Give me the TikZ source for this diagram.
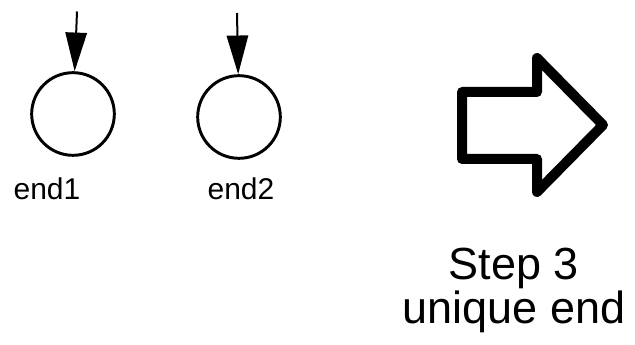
\documentclass[tikz,border=0pt]{standalone}
\usepackage{fontspec}
\setmainfont{Liberation Sans}
\usetikzlibrary{arrows.meta}

\begin{document}
\begin{tikzpicture}[x=0.75pt, y=-0.75pt, >={Triangle[length=29pt, width=16pt]},
	end state/.style={circle, draw, line width=2.2pt, minimum size=62pt, inner sep=0pt},
	end label/.style={anchor=base, font=\fontsize{22.5}{27}\selectfont},
	big arrow/.style={line width=7.5pt, line join=round},
	step label/.style={align=center, anchor=base, font=\fontsize{33.75}{28.5}\selectfont}]
	\useasboundingbox (0,0) rectangle (635,345);
	
	\foreach \m/\x/\y/\s/\lx in {1/73/114/77/47, 2/239/117/237/241} {
	\node [end state] (end-\m) at (\x,\y) {};
	\coordinate (in-\m) at (\s,10+\m*1.5);
	\draw [->, line width=1.5pt] (in-\m) -- (end-\m);
	\node [end label] (label-\m) at (\lx,200) {end\m};
	}
	
	\draw [big arrow] (462,92) -- (537,92) -- (537,58) -- (603,125)
	-- (537,192) -- (537,159) -- (462,159) -- cycle;
	
	\node [step label] (step) at (514,323) {Step 3\\unique end};
\end{tikzpicture}
\end{document}
